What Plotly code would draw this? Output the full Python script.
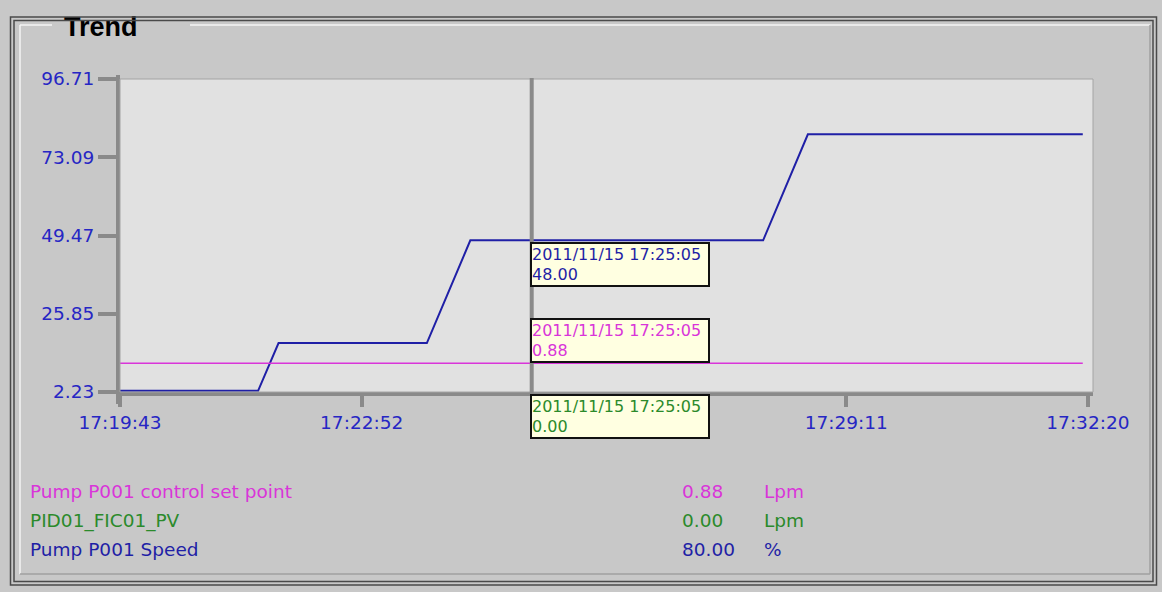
import numpy as np
import pandas as pd
import plotly.graph_objects as go

W, H = 1162, 592
DAY = "2011-11-15"

# Pump P001 Speed (%)
speed_times = ["17:19:43", "17:21:31", "17:21:47", "17:23:43", "17:24:17",
               "17:28:06", "17:28:41", "17:32:16"]
speed_values = [2.6, 2.6, 17.0, 17.0, 48.0, 48.0, 80.0, 80.0]

# Pump P001 control set point (Lpm)
setpoint_times = ["17:19:43", "17:32:16"]
setpoint_values = [0.88, 0.88]

# PID01_FIC01_PV (Lpm)
pv_times = ["17:19:43", "17:32:16"]
pv_values = [0.00, 0.00]

series_names = ["Pump P001 control set point", "PID01_FIC01_PV", "Pump P001 Speed"]
series_units = ["Lpm", "Lpm", "%"]

# time ticks; the middle one sits under the cursor read-out and carries no label
x_tick_times = ["17:19:43", "17:22:52", "17:26:01", "17:29:11", "17:32:20"]
x_tick_text = ["17:19:43", "17:22:52", "", "17:29:11", "17:32:20"]
y_tick_values = [2.23, 25.85, 49.47, 73.09, 96.71]

cursor_label = "17:25:05"
x_range_end = "17:32:24"
lpm_range = [0.05, 9.05]

# colours
C_BLUE = "#1f1fa6"
C_BLUE_TXT = "#2626c4"
C_MAGENTA = "#d935d9"
C_GREEN = "#2b8a2b"
C_AXIS = "#8a8a8a"
C_FACE = "#c8c8c8"
C_PLOT = "#e1e1e1"
FONT = "DejaVu Sans"


def ts(t):
    return pd.Timestamp(f"{DAY} {t}")


def px(x):
    return x / W


def py(y):
    return 1 - y / H


PLOT_L, PLOT_R, PLOT_T, PLOT_B = 120, 1093, 79, 392
Y_DOMAIN = [py(PLOT_B), py(PLOT_T)]

speed_t = [ts(t) for t in speed_times]
setpoint_t = [ts(t) for t in setpoint_times]
pv_t = [ts(t) for t in pv_times]
cursor_t = ts(cursor_label)


def value_at(times, values, when):
    secs = np.array([(t - times[0]).total_seconds() for t in times])
    return float(np.interp((when - times[0]).total_seconds(), secs, values))


def lpm_to_paper(v):
    frac = (v - lpm_range[0]) / (lpm_range[1] - lpm_range[0])
    return Y_DOMAIN[0] + frac * (Y_DOMAIN[1] - Y_DOMAIN[0])


fig = go.Figure()

# process traces
fig.add_trace(go.Scatter(x=speed_t, y=speed_values, mode="lines",
                         line=dict(color=C_BLUE, width=2), name=series_names[2],
                         xaxis="x", yaxis="y"))
fig.add_trace(go.Scatter(x=setpoint_t, y=setpoint_values, mode="lines",
                         line=dict(color=C_MAGENTA, width=1.5), name=series_names[0],
                         xaxis="x", yaxis="y2"))
fig.add_trace(go.Scatter(x=pv_t, y=pv_values, mode="lines",
                         line=dict(color=C_GREEN, width=1.5), name=series_names[1],
                         xaxis="x", yaxis="y2"))

# group box caption (drawn under the frame lines)
fig.add_trace(go.Scatter(x=[64], y=[29.5], mode="text", text=["Trend"],
                         textposition="middle right",
                         textfont=dict(family="Liberation Sans", size=27,
                                       color="#000000", weight="bold"),
                         xaxis="x3", yaxis="y3", hoverinfo="skip"))

fig.update_layout(
    width=W, height=H,
    margin=dict(l=0, r=0, t=0, b=0, autoexpand=False),
    paper_bgcolor=C_FACE,
    plot_bgcolor="rgba(0,0,0,0)",
    showlegend=False,
    xaxis=dict(
        domain=[px(PLOT_L), px(PLOT_R)],
        type="date",
        range=[ts(x_tick_times[0]), ts(x_range_end)],
        tickmode="array",
        tickvals=[ts(t) for t in x_tick_times],
        ticktext=x_tick_text,
        showgrid=False, zeroline=False,
        showline=True, linecolor=C_AXIS, linewidth=4,
        ticks="outside", ticklen=11, tickwidth=4, tickcolor=C_AXIS,
        ticklabelstandoff=0,
        tickfont=dict(family=FONT, size=18.5, color=C_BLUE_TXT),
        anchor="y", fixedrange=True,
    ),
    yaxis=dict(
        domain=Y_DOMAIN,
        range=[y_tick_values[0], y_tick_values[-1]],
        tickmode="array",
        tickvals=y_tick_values,
        ticktext=[f"{v:.2f}" for v in y_tick_values],
        showgrid=False, zeroline=False,
        showline=True, linecolor=C_AXIS, linewidth=4,
        ticks="outside", ticklen=18, tickwidth=4, tickcolor=C_AXIS,
        tickfont=dict(family=FONT, size=18.5, color=C_BLUE_TXT),
        anchor="x", fixedrange=True,
    ),
    yaxis2=dict(
        overlaying="y", range=lpm_range, visible=False, fixedrange=True,
    ),
    xaxis3=dict(domain=[0, 1], range=[0, W], visible=False, fixedrange=True,
                anchor="y3"),
    yaxis3=dict(domain=[0, 1], range=[H, 0], visible=False, fixedrange=True,
                anchor="x3"),
)

shapes = []
# plot area fill and edge
shapes.append(dict(type="rect", xref="paper", yref="paper",
                   x0=px(PLOT_L), x1=px(PLOT_R), y0=py(PLOT_B), y1=py(PLOT_T),
                   fillcolor=C_PLOT, line=dict(width=0), layer="below"))
shapes.append(dict(type="rect", xref="paper", yref="paper",
                   x0=px(PLOT_L), x1=px(PLOT_R), y0=py(PLOT_B), y1=py(PLOT_T),
                   line=dict(color="#a4a4a4", width=1), layer="above"))
# value axis bar runs a little past both ends of the plot area
shapes.append(dict(type="line", xref="paper", yref="paper",
                   x0=px(PLOT_L - 2), x1=px(PLOT_L - 2), y0=py(404), y1=py(75),
                   line=dict(color=C_AXIS, width=4), layer="below"))
# cursor line
shapes.append(dict(type="line", xref="x", yref="paper",
                   x0=cursor_t, x1=cursor_t, y0=py(393), y1=py(78),
                   line=dict(color=C_AXIS, width=4), layer="above"))
# outer double frame
for off in (0, 3.5):
    shapes.append(dict(type="rect", xref="paper", yref="paper",
                       x0=px(10.5 + off), x1=px(1156.5 - off),
                       y0=py(585 - off), y1=py(17 + off),
                       line=dict(color="#4a4a4a", width=1.5), layer="above"))
# etched group box: light top/left, grey bottom/right
light = dict(color="#f4f4f4", width=1.5)
dark = dict(color="#a0a0a0", width=1.5)
for x0, y0, x1, y1, ln in [
    (20, 25, 20, 574, light),
    (20, 25, 52, 25, light),
    (190, 25, 1150, 25, light),
    (1150, 25, 1150, 574, dark),
    (20, 574, 1150, 574, dark),
]:
    shapes.append(dict(type="line", xref="paper", yref="paper",
                       x0=px(x0), x1=px(x1), y0=py(y0), y1=py(y1),
                       line=ln, layer="above"))
fig.update_layout(shapes=shapes)

annotations = []
stamp = f"{DAY.replace('-', '/')} {cursor_label}"
speed_now = value_at(speed_t, speed_values, cursor_t)
setpoint_now = value_at(setpoint_t, setpoint_values, cursor_t)
pv_now = value_at(pv_t, pv_values, cursor_t)
# cursor read-outs: (value, y position, yref, anchor, colour, shift)
tips = [
    (speed_now, speed_now, "y", "top", C_BLUE, -2),
    (setpoint_now, setpoint_now, "y2", "bottom", C_MAGENTA, 0),
    (pv_now, lpm_to_paper(pv_now), "paper", "top", C_GREEN, 0),
]
for val, ypos, yref, yanchor, col, shift in tips:
    annotations.append(dict(
        x=cursor_t, y=ypos, xref="x", yref=yref,
        xanchor="left", yanchor=yanchor, yshift=shift, xshift=-2,
        text=f"{stamp}<br>{val:.2f}", align="left", showarrow=False,
        width=176, height=41, borderpad=0, borderwidth=2,
        bordercolor="#111111", bgcolor="#ffffe1",
        font=dict(family=FONT, size=16, color=col),
    ))

# legend rows: name, current value, unit
legend_last = [setpoint_values[-1], pv_values[-1], speed_values[-1]]
legend_cols = [C_MAGENTA, C_GREEN, C_BLUE]
for i, (name, val, unit, col) in enumerate(zip(series_names, legend_last,
                                                series_units, legend_cols)):
    yc = py(492 + 28.5 * i)
    for xpos, txt in [(28, name), (680, f"{val:.2f}"), (762, unit)]:
        annotations.append(dict(
            x=px(xpos), y=yc, xref="paper", yref="paper",
            xanchor="left", yanchor="middle", text=txt, showarrow=False,
            font=dict(family=FONT, size=18.5, color=col),
        ))
fig.update_layout(annotations=annotations)

fig.write_html("out.html")
